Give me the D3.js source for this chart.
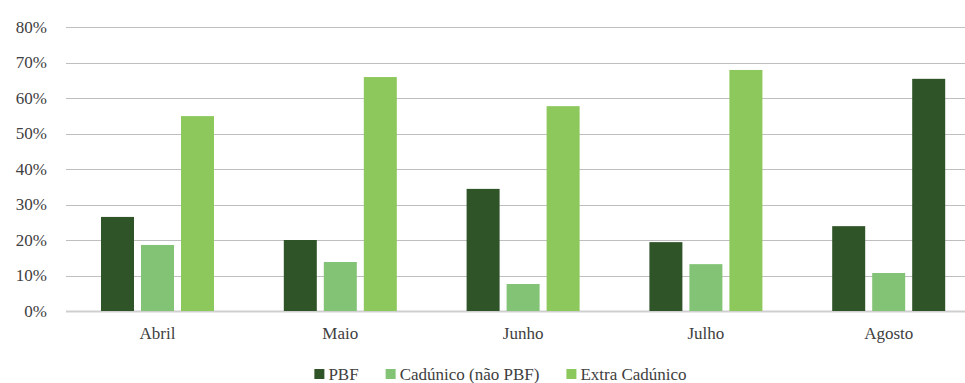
<!DOCTYPE html>
<html>
<head>
<meta charset="utf-8">
<script src="https://cdn.jsdelivr.net/npm/d3@7"></script>
<style>
  body { margin: 0; font-family: 'Liberation Serif', 'Times New Roman', serif; }
</style>
</head>
<body>
<svg id="chart" width="965" height="383" font-family="'Liberation Serif', 'Times New Roman', serif"></svg>
<script>
// Months on the x axis
const months = ["Abril", "Maio", "Junho", "Julho", "Agosto"];
// Series names (legend order)
const seriesNames = ["PBF", "Cadúnico (não PBF)", "Extra Cadúnico"];
// Share of each group per month, in percent
const pbf           = [26.5, 20.0, 34.4, 19.4, 23.9];
const cadunico      = [18.6, 13.8,  7.6, 13.2, 10.7];
const extraCadunico = [54.9, 65.9, 57.7, 67.9, 65.4];
// Y axis ticks
const yTicks = [0, 10, 20, 30, 40, 50, 60, 70, 80];

const seriesValues = [pbf, cadunico, extraCadunico];
const colors = ["#2f5428", "#83c376", "#8cc85b"];
const FONT = "'Liberation Serif', 'Times New Roman', serif";
const TEXT = "#404040";

const svg = d3.select("#chart");
const W = 965;
const plot = { left: 66, right: 980, top: 27, bottom: 311 };

const y = d3.scaleLinear().domain([0, 80]).range([plot.bottom, plot.top]);
const x0 = d3.scaleBand().domain(months).range([plot.left, plot.right]).padding(0);
const groupW = 113;
const x1 = d3.scaleBand().domain(seriesNames)
  .range([35, 35 + groupW])
  .paddingInner(0.175);

// Horizontal gridlines
svg.append("g").selectAll("line").data(yTicks).join("line")
  .attr("x1", plot.left).attr("x2", W)
  .attr("y1", d => Math.round(y(d)) + 0.5).attr("y2", d => Math.round(y(d)) + 0.5)
  .attr("stroke", d => d === 0 ? "#cfcfcf" : "#bfbfbf")
  .attr("stroke-width", d => d === 0 ? 2 : 1.2);

// Y axis labels
const yAxis = d3.axisLeft(y).tickValues(yTicks).tickFormat(d => d + "%").tickSize(0).tickPadding(0);
const gy = svg.append("g").attr("transform", `translate(47,0)`).call(yAxis);
gy.attr("font-family", FONT);
gy.select(".domain").remove();
gy.selectAll("text").style("font-family", FONT).style("font-size", "17px").attr("fill", TEXT);

// Bars
const rows = months.map((m, i) => ({ month: m, values: seriesNames.map((s, j) => ({ s, j, v: seriesValues[j][i], month: m })) }));
const groups = svg.append("g").selectAll("g").data(rows).join("g")
  .attr("transform", d => `translate(${x0(d.month)},0)`);
groups.selectAll("rect").data(d => d.values).join("rect")
  .attr("x", d => x1(d.s))
  .attr("width", x1.bandwidth())
  .attr("y", d => y(d.v))
  .attr("height", d => y(0) - y(d.v))
  // the August "Extra Cadúnico" bar is drawn in the darker tone
  .attr("fill", d => (d.month === "Agosto" && d.j === 2) ? colors[0] : colors[d.j]);

// X axis labels, centred under each group of bars
const xAxis = d3.axisBottom(x0).tickSize(0).tickPadding(0).offset(0);
const gx = svg.append("g").attr("transform", `translate(0,${plot.bottom + 28})`).call(xAxis);
gx.attr("font-family", FONT);
gx.select(".domain").remove();
gx.selectAll(".tick").attr("transform", d => `translate(${x0(d) + 35 + groupW / 2},0)`);
gx.selectAll("text").style("font-family", FONT).style("font-size", "17px").attr("fill", TEXT).attr("dy", 0);

// Legend
const legend = svg.append("g");
const items = legend.selectAll("g").data(seriesNames).join("g");
items.append("rect").attr("width", 10).attr("height", 10).attr("y", -11)
  .attr("fill", (d, i) => colors[i]);
items.append("text").attr("x", 14)
  .style("font-family", FONT).style("font-size", "17px").attr("fill", TEXT)
  .text(d => d);
const gap = 27;
const widths = items.nodes().map(n => n.getBBox().width);
const total = d3.sum(widths) + gap * (widths.length - 1);
let cx = 500.5 - total / 2;
items.attr("transform", (d, i) => {
  const t = `translate(${cx},380)`;
  cx += widths[i] + gap;
  return t;
});
</script>
</body>
</html>
